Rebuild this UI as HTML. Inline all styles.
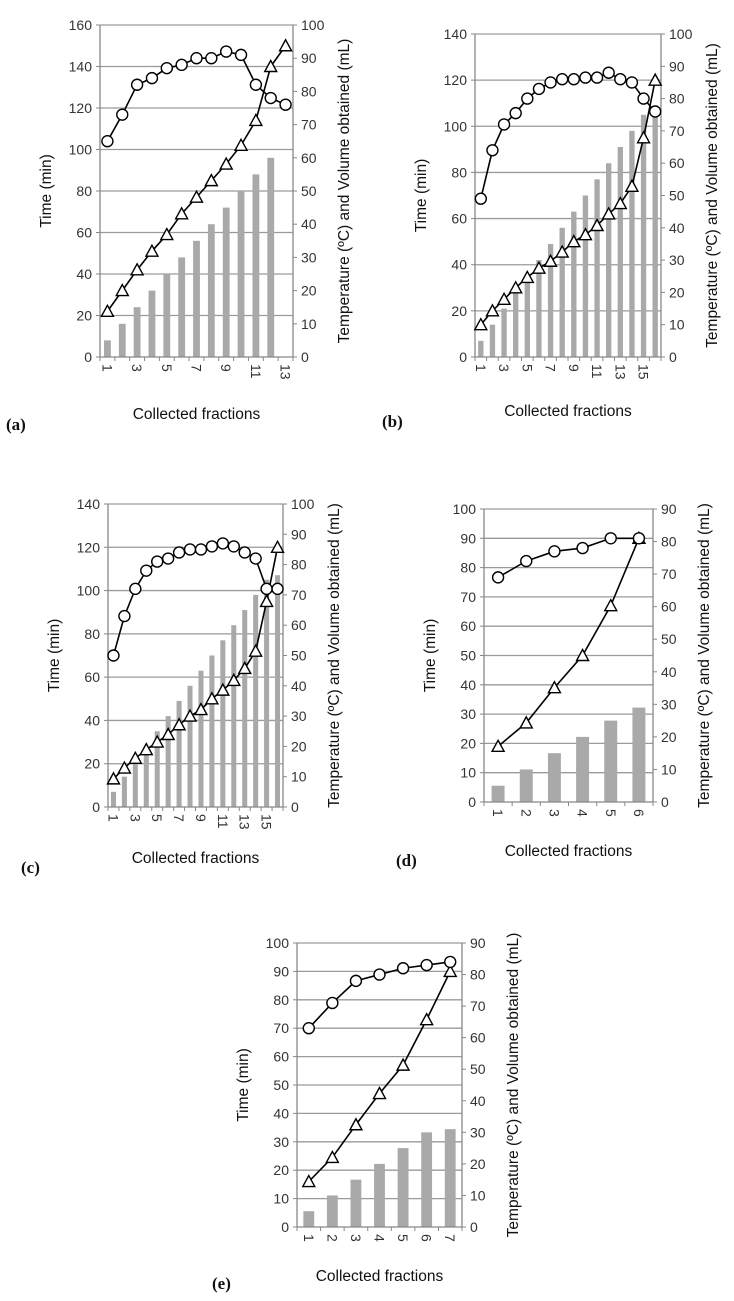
<!DOCTYPE html>
<html><head><meta charset="utf-8">
<style>
html,body{margin:0;padding:0;background:#fff;}
svg{display:block;font-family:"Liberation Sans",sans-serif;}
.tk{font-size:14px;fill:#333;}
.ttl{font-size:15.5px;fill:#111;}
.pl{font-family:"Liberation Serif",serif;font-size:17px;fill:#111;font-weight:bold;}
</style></head>
<body>
<svg id="fig" width="734" height="1301" viewBox="0 0 734 1301" xmlns="http://www.w3.org/2000/svg"></svg>
<script>
// Panel (a)
const aVolume=[5,10,15,20,25,30,35,40,45,50,55,60];
const aTime=[22,32,42,51,59,69,77,85,93,102,114,140,150];
const aTemp=[65,73,82,84,87,88,90,90,92,91,82,78,76];
// Panel (b)
const bVolume=[5,10,15,20,25,30,35,40,45,50,55,60,65,70,75,78];
const bTime=[14,20,25,30,34.5,38.5,41.5,45.5,50,53,57,62,66.5,74,95,120];
const bTemp=[49,64,72,75.5,80,83,85,86,86,86.5,86.5,88,86,85,80,76];
// Panel (c)
const cVolume=[5,10,15,20,25,30,35,40,45,50,55,60,65,70,75,76.5];
const cTime=[13,18,22.5,26.5,30,33.5,38,42,45,50,54,58.5,64,72,95,120];
const cTemp=[50,63,72,78,81,82,84,85,85,86,87,86,84,82,72,72];
// Panel (d)
const dVolume=[5,10,15,20,25,29];
const dTime=[19,27,39,50,67,90];
const dTemp=[69,74,77,78,81,81];
// Panel (e)
const eVolume=[5,10,15,20,25,30,31];
const eTime=[16,24.5,36,47,57,73,90];
const eTemp=[63,71,78,80,82,83,84];
// Axis tick labels
const aLeftTicks=[0,20,40,60,80,100,120,140,160];
const aRightTicks=[0,10,20,30,40,50,60,70,80,90,100];
const bLeftTicks=[0,20,40,60,80,100,120,140];
const bRightTicks=[0,10,20,30,40,50,60,70,80,90,100];
const dLeftTicks=[0,10,20,30,40,50,60,70,80,90,100];
const dRightTicks=[0,10,20,30,40,50,60,70,80,90];

const NS="http://www.w3.org/2000/svg";
const svg=document.getElementById('fig');
function mk(tag,attrs,parent){const e=document.createElementNS(NS,tag);for(const k in attrs)e.setAttribute(k,attrs[k]);(parent||svg).appendChild(e);return e;}

function chart(o){
  const g=mk('g',{});
  
  
  const lMax=o.lt[o.lt.length-1], rMax=o.rt[o.rt.length-1];
  const yL=v=>o.y1-(v/lMax)*(o.y1-o.y0);
  const yR=v=>o.y1-(v/rMax)*(o.y1-o.y0);
  const n=o.n, bw=(o.x1-o.x0)/n;
  const xC=i=>o.x0+bw*(i+0.5);
  o.lt.forEach(v=>{
    const y=yL(v);
    if(v>0){const gl=mk('line',{x1:o.x0,x2:o.x1,y1:y,y2:y,stroke:'#9a9a9a','stroke-width':1.3},g);
      
      }
    mk('line',{x1:o.x0-4,x2:o.x0,y1:y,y2:y,stroke:'#888'},g);
    const t=mk('text',{x:o.x0-8,y:y+5,'text-anchor':'end',class:'tk'},g);t.textContent=v;
    
    
  });
  o.rt.forEach(v=>{
    const y=yR(v);
    mk('line',{x1:o.x1,x2:o.x1+4,y1:y,y2:y,stroke:'#888'},g);
    const t=mk('text',{x:o.x1+8,y:y+5,'text-anchor':'start',class:'tk'},g);t.textContent=v;
    
    
  });
  o.vol.forEach((v,i)=>{
    const b=mk('rect',{x:xC(i)-bw*0.23,y:yR(v),width:bw*0.46,height:o.y1-yR(v),fill:'#a9a9a9'},g);
    
    
  });
  mk('line',{x1:o.x0,x2:o.x0,y1:o.y0,y2:o.y1,stroke:'#888','stroke-width':1.3},g);
  mk('line',{x1:o.x1,x2:o.x1,y1:o.y0,y2:o.y1,stroke:'#888','stroke-width':1.3},g);
  mk('line',{x1:o.x0,x2:o.x1,y1:o.y1,y2:o.y1,stroke:'#888','stroke-width':1.3},g);
  for(let i=0;i<=n;i++){const x=o.x0+bw*i;mk('line',{x1:x,x2:x,y1:o.y1,y2:o.y1+4,stroke:'#888'},g);}
  for(let i=0;i<n;i+=o.step){
    const t=mk('text',{x:0,y:0,class:'tk',transform:`translate(${xC(i)-5},${o.y1+7}) rotate(90)`},g);
    t.textContent=i+1;
    
    
  }
  const tp=o.time.map((v,i)=>xC(i)+','+yL(v)).join(' ');
  const tl=mk('polyline',{points:tp,fill:'none',stroke:'#000','stroke-width':1.6},g);
  
  
  const cp=o.temp.map((v,i)=>xC(i)+','+yR(v)).join(' ');
  const cl=mk('polyline',{points:cp,fill:'none',stroke:'#000','stroke-width':1.6},g);
  
  
  o.time.forEach((v,i)=>{
    const x=xC(i),y=yL(v);
    const m=mk('polygon',{points:`${x},${y-6} ${x-6},${y+5} ${x+6},${y+5}`,fill:'#fff',stroke:'#000','stroke-width':1.4},g);
    
    
  });
  o.temp.forEach((v,i)=>{
    const m=mk('circle',{cx:xC(i),cy:yR(v),r:5.5,fill:'#fff',stroke:'#000','stroke-width':1.4},g);
    
    
  });
  const my=(o.y0+o.y1)/2;
  const lt=mk('text',{class:'ttl','text-anchor':'middle',transform:`translate(${o.x0-49},${my}) rotate(-90)`},g);
  lt.textContent='Time (min)';
  
  
  const rt=mk('text',{class:'ttl','text-anchor':'middle',transform:`translate(${o.x1+56},${my}) rotate(-90)`},g);
  rt.textContent='Temperature (ºC) and Volume obtained (mL)';
  
  
  const xt=mk('text',{class:'ttl','text-anchor':'middle',x:(o.x0+o.x1)/2,y:o.xty},g);
  xt.textContent='Collected fractions';
  
  
  const pl=mk('text',{class:'pl',x:o.px,y:o.py},g);
  pl.textContent='('+o.id+')';
  
  
}
chart({id:'a',x0:100,x1:293,y0:25,y1:357,n:13,step:2,lt:aLeftTicks,rt:aRightTicks,vol:aVolume,time:aTime,temp:aTemp,xty:419,px:6,py:430});
chart({id:'b',x0:475,x1:661,y0:34,y1:357,n:16,step:2,lt:bLeftTicks,rt:bRightTicks,vol:bVolume,time:bTime,temp:bTemp,xty:416,px:382,py:427});
chart({id:'c',x0:108,x1:283,y0:504,y1:807,n:16,step:2,lt:bLeftTicks,rt:bRightTicks,vol:cVolume,time:cTime,temp:cTemp,xty:863,px:21,py:873});
chart({id:'d',x0:484,x1:653,y0:509,y1:802,n:6,step:1,lt:dLeftTicks,rt:dRightTicks,vol:dVolume,time:dTime,temp:dTemp,xty:856,px:396,py:866});
chart({id:'e',x0:297,x1:462,y0:943,y1:1227,n:7,step:1,lt:dLeftTicks,rt:dRightTicks,vol:eVolume,time:eTime,temp:eTemp,xty:1281,px:212,py:1289});
</script>
</body></html>
